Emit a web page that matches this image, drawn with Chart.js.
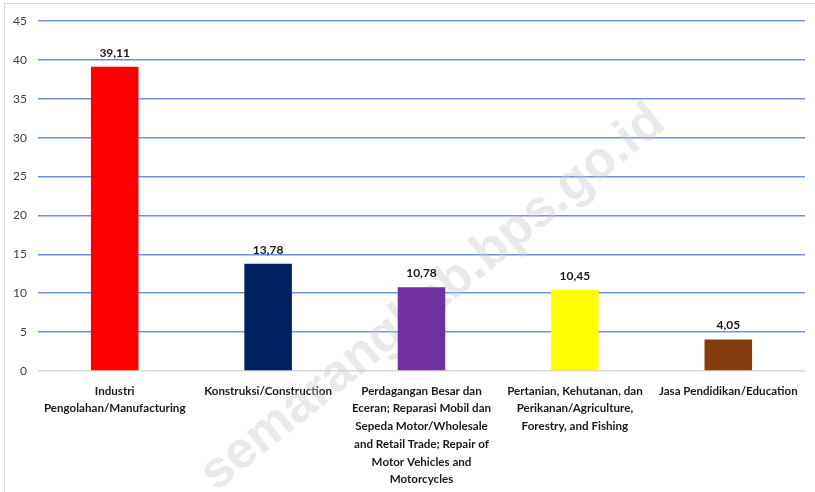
<!DOCTYPE html>
<html>
<head>
<meta charset="utf-8">
<script src="https://cdn.jsdelivr.net/npm/chart.js@4.4.0/dist/chart.umd.min.js"></script>
<style>
    html, body { margin: 0; padding: 0; background: #fff; }
    #wrap { position: relative; width: 815px; height: 492px; }
    #frame { position: absolute; left: 4px; top: 3px; right: -2px; bottom: -2px; border-left: 1px solid #d9d9d9; border-top: 1px solid #d9d9d9; pointer-events: none; }
</style>
</head>
<body>
<div id="wrap">
    <canvas id="sectorChart" width="815" height="492"></canvas>
    <div id="frame"></div>
</div>
<script>
const categories = [
    ['Industri', 'Pengolahan/Manufacturing'],
    ['Konstruksi/Construction'],
    ['Perdagangan Besar dan', 'Eceran; Reparasi Mobil dan', 'Sepeda Motor/Wholesale', 'and Retail Trade; Repair of', 'Motor Vehicles and', 'Motorcycles'],
    ['Pertanian, Kehutanan, dan', 'Perikanan/Agriculture,', 'Forestry, and Fishing'],
    ['Jasa Pendidikan/Education']
];
const shareValues = [39.11, 13.78, 10.78, 10.45, 4.05];
const barColors = ['#FF0000', '#002060', '#7030A0', '#FFFF00', '#843C0C'];
const yTicks = [0, 5, 10, 15, 20, 25, 30, 35, 40, 45];

const FONT = 'Lato, "Open Sans", sans-serif';

// value labels above bars, comma decimal
const valueLabels = {
    id: 'valueLabels',
    afterDatasetsDraw(chart) {
        const ctx = chart.ctx;
        const meta = chart.getDatasetMeta(0);
        ctx.save();
        ctx.font = 'bold 12px ' + FONT;
        ctx.fillStyle = '#1a1a1a';
        ctx.textAlign = 'center';
        ctx.textBaseline = 'bottom';
        meta.data.forEach((bar, i) => {
            const txt = shareValues[i].toFixed(2).replace('.', ',');
            ctx.fillText(txt, bar.x, bar.y - 8);
        });
        ctx.restore();
    }
};

const watermark = {
    id: 'watermark',
    beforeDatasetsDraw(chart) {
        const ctx = chart.ctx;
        ctx.save();
        ctx.translate(433, 298);
        ctx.rotate(-39 * Math.PI / 180);
        ctx.font = 'bold 52px "Liberation Sans", Arial, sans-serif';
        ctx.fillStyle = 'rgba(200, 200, 200, 0.4)';
        ctx.textAlign = 'center';
        ctx.textBaseline = 'middle';
        ctx.fillText('semarangkab.bps.go.id', 0, 0);
        ctx.restore();
    }
};

new Chart(document.getElementById('sectorChart').getContext('2d'), {
    type: 'bar',
    data: {
        labels: categories,
        datasets: [{
            data: shareValues,
            backgroundColor: barColors,
            borderWidth: 0,
            categoryPercentage: 1,
            barPercentage: 0.31
        }]
    },
    options: {
        responsive: false,
        animation: false,
        layout: { padding: { top: 21, right: 10, left: 0, bottom: 0 } },
        plugins: { legend: { display: false }, tooltip: { enabled: false } },
        scales: {
            x: {
                grid: { display: false },
                border: { display: false },
                ticks: {
                    autoSkip: false,
                    maxRotation: 0,
                    padding: 3,
                    color: '#1a1a1a',
                    font: { family: FONT, size: 11.6, weight: 'bold', lineHeight: 1.53 }
                },
                afterFit(scale) { scale.height = 121; }
            },
            y: {
                min: 0,
                max: 45,
                afterBuildTicks(scale) { scale.ticks = yTicks.map(v => ({ value: v })); },
                grid: {
                    color: ctx => ctx.tick && ctx.tick.value === 0 ? '#d9d9d9' : '#6f93d8',
                    lineWidth: 1.5,
                    drawTicks: false
                },
                border: { display: false },
                ticks: {
                    padding: 11,
                    color: '#404040',
                    font: { family: FONT, size: 12 }
                },
                afterFit(scale) { scale.width = 38; }
            }
        }
    },
    plugins: [watermark, valueLabels]
});
</script>
</body>
</html>
